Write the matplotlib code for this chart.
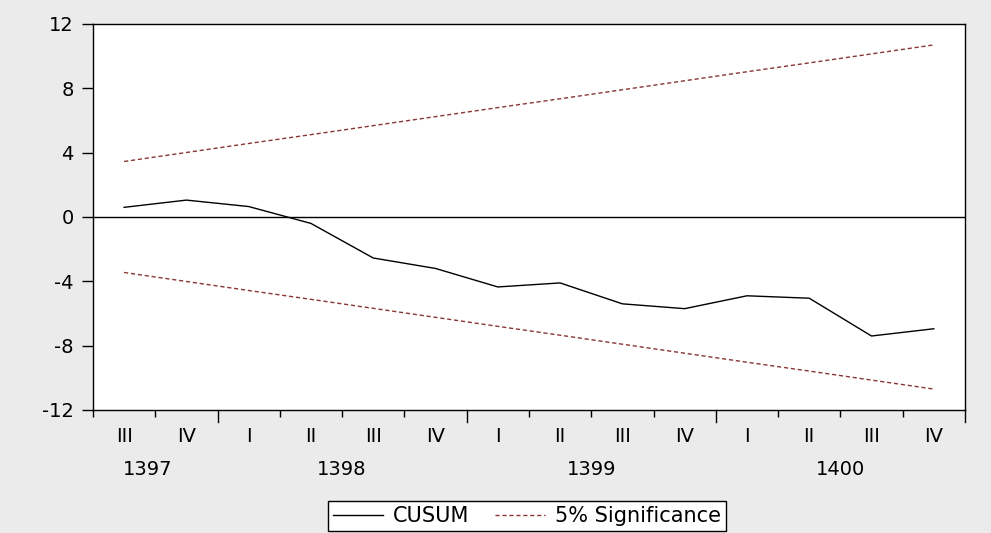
import matplotlib.pyplot as plt

plt.rcParams['font.family'] = ['DejaVu Sans']
plt.rcParams['axes.unicode_minus'] = False

quarters = ['III', 'IV', 'I', 'II', 'III', 'IV', 'I', 'II', 'III', 'IV', 'I', 'II', 'III', 'IV']
years = ['1397', '1398', '1399', '1400']
year_centers = [0.88, 4.0, 8.0, 12.0]
year_bounds = [2, 6, 10, 14]

cusum = [0.6, 1.05, 0.65, -0.4, -2.55, -3.2, -4.35, -4.1, -5.4, -5.7, -4.9, -5.05, -7.4, -6.95]
upper = [3.45, 4.01, 4.57, 5.12, 5.68, 6.24, 6.80, 7.35, 7.91, 8.47, 9.03, 9.58, 10.14, 10.70]
lower = [-3.45, -4.01, -4.57, -5.12, -5.68, -6.24, -6.80, -7.35, -7.91, -8.47, -9.03, -9.58, -10.14, -10.70]

x = [i + 0.5 for i in range(len(cusum))]

fig = plt.figure(figsize=(9.91, 5.33), dpi=100, facecolor='#ebebeb')
ax = fig.add_axes([0.0938, 0.2308, 0.8799, 0.7242])
ax.set_facecolor('white')

red = '#8a3535'
ax.axhline(0, color='black', lw=1.0)
ax.plot(x, cusum, color='black', lw=1.0, label='CUSUM')
ax.plot(x, upper, color=red, lw=1.0, dashes=(3, 2), label='5% Significance')
ax.plot(x, lower, color=red, lw=1.0, dashes=(3, 2))

ax.set_xlim(0, 14)
ax.set_ylim(-12, 12)
ax.set_yticks([-12, -8, -4, 0, 4, 8, 12])
ax.tick_params(axis='y', direction='out', length=8, width=1, labelsize=14, pad=6)

# quarter boundaries: long ticks at year ends, short ones otherwise
ax.set_xticks([i for i in range(15) if i not in year_bounds])
ax.set_xticklabels([])
ax.tick_params(axis='x', which='major', direction='out', length=5, width=1)
ax.set_xticks(x, minor=True)
ax.set_xticklabels(quarters, minor=True)
ax.tick_params(axis='x', which='minor', length=0, labelsize=14, pad=12)
for b in year_bounds:
    ax.plot([b, b], [0, -0.031], color='black', lw=1, transform=ax.get_xaxis_transform(), clip_on=False)

for c, yr in zip(year_centers, years):
    ax.text(c, -0.155, yr, ha='center', va='center', fontsize=14, transform=ax.get_xaxis_transform())

for s in ax.spines.values():
    s.set_linewidth(1.0)
    s.set_color('black')

leg = fig.legend(loc='center', bbox_to_anchor=(527 / 991, 1 - 516 / 533), ncol=2, fontsize=15,
                 frameon=True, fancybox=False, edgecolor='black', facecolor='white', framealpha=1,
                 handlelength=2.4, columnspacing=1.2, borderpad=0.25, handletextpad=0.5,
                 borderaxespad=0)
leg.get_frame().set_linewidth(1.0)

fig.savefig('out.png', dpi=100, facecolor=fig.get_facecolor())
